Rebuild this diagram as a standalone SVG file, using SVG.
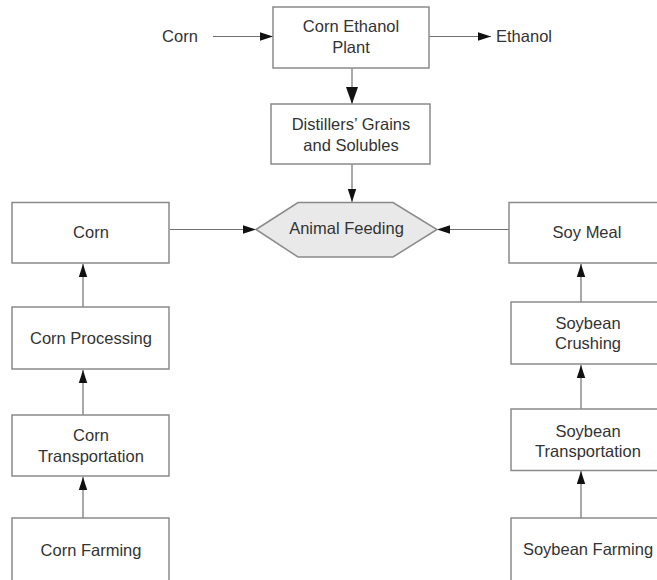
<svg xmlns="http://www.w3.org/2000/svg" width="657" height="580" viewBox="0 0 657 580">
<style>
.box{fill:#fff;stroke:#8a8a8a;stroke-width:1.5}
.hex{fill:#e9e9e9;stroke:#8a8a8a;stroke-width:1.5}
.t{font-family:"Liberation Sans",Arial,sans-serif;font-size:16.5px;fill:#333;text-anchor:middle}
.ln{stroke:#707070;stroke-width:1.2;fill:none;marker-end:url(#ah)}
.lnb{stroke:#707070;stroke-width:1.2;fill:none;marker-end:url(#ahb)}
</style>
<defs>
<marker id="ah" markerUnits="userSpaceOnUse" markerWidth="14" markerHeight="10" refX="13" refY="5" orient="auto"><path d="M0,0.8 L13,5 L0,9.2 Z" fill="#111"/></marker>
<marker id="ahb" markerUnits="userSpaceOnUse" markerWidth="18" markerHeight="14" refX="17" refY="7" orient="auto"><path d="M0,1 L17,7 L0,13 Z" fill="#111"/></marker>
</defs>
<g id="connectors">
<line class="ln" x1="213" y1="36.5" x2="273" y2="36.5"/>
<line class="ln" x1="429" y1="36.5" x2="491" y2="36.5"/>
<line class="lnb" x1="352" y1="68" x2="352" y2="104"/>
<line class="ln" x1="352" y1="164" x2="352" y2="202"/>
<line class="ln" x1="170" y1="229.5" x2="256" y2="229.5"/>
<line class="ln" x1="509" y1="229.5" x2="437" y2="229.5"/>
<line class="ln" x1="83" y1="307" x2="83" y2="264"/>
<line class="ln" x1="83" y1="415" x2="83" y2="370"/>
<line class="ln" x1="83" y1="518" x2="83" y2="477"/>
<line class="ln" x1="581" y1="302" x2="581" y2="264"/>
<line class="ln" x1="581" y1="409" x2="581" y2="365"/>
<line class="ln" x1="581" y1="518" x2="581" y2="471"/>
</g>
<g id="corn-in"><text class="t" x="180" y="42">Corn</text></g>
<g id="ethanol"><text class="t" x="524" y="42">Ethanol</text></g>
<g id="plant"><rect class="box" x="273" y="7" width="156" height="61"/><text class="t" x="351" y="31.5">Corn Ethanol</text><text class="t" x="351" y="52.5">Plant</text></g>
<g id="ddgs"><rect class="box" x="271" y="104" width="159" height="60"/><text class="t" x="351" y="130">Distillers’ Grains</text><text class="t" x="351" y="151">and Solubles</text></g>
<g id="feeding"><polygon class="hex" points="256,229.5 298,202.5 393,202.5 437,229.5 393,257 298,257"/><text class="t" x="346.5" y="234">Animal Feeding</text></g>
<g id="corn"><rect class="box" x="12" y="202.5" width="157" height="60.5"/><text class="t" x="91" y="238">Corn</text></g>
<g id="corn-processing"><rect class="box" x="12" y="307" width="157" height="62"/><text class="t" x="91" y="344">Corn Processing</text></g>
<g id="corn-transport"><rect class="box" x="12" y="415" width="157" height="61"/><text class="t" x="91" y="440.5">Corn</text><text class="t" x="91" y="461.5">Transportation</text></g>
<g id="corn-farming"><rect class="box" x="12" y="518" width="157" height="66"/><text class="t" x="91" y="556">Corn Farming</text></g>
<g id="soymeal"><rect class="box" x="509" y="202.5" width="160" height="60.5"/><text class="t" x="587" y="238">Soy Meal</text></g>
<g id="soy-crushing"><rect class="box" x="511" y="302" width="158" height="62"/><text class="t" x="588" y="328.5">Soybean</text><text class="t" x="588" y="348.5">Crushing</text></g>
<g id="soy-transport"><rect class="box" x="511" y="409" width="158" height="61.5"/><text class="t" x="588" y="437">Soybean</text><text class="t" x="588" y="456.5">Transportation</text></g>
<g id="soy-farming"><rect class="box" x="511" y="518" width="158" height="66"/><text class="t" x="588" y="555">Soybean Farming</text></g>
</svg>
